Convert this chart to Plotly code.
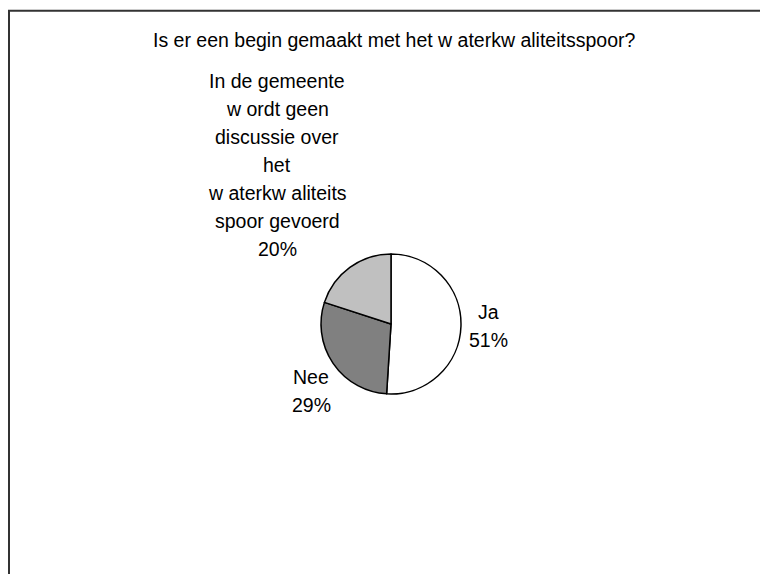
import plotly.graph_objects as go

OFF = 8  # page body margin
W, H = 768 - OFF, 574 - OFF

title_text = "Is er een begin gemaakt met het w aterkw aliteitsspoor?"
categories = ["Ja", "Nee",
              "In de gemeente<br>w ordt geen<br>discussie over<br>het<br>w aterkw aliteits<br>spoor gevoerd"]
values = [51, 29, 20]
colors = ["#FFFFFF", "#808080", "#C0C0C0"]

FONT = "Liberation Sans, Arial, sans-serif"
FS = 19.5

# pie geometry (window pixels)
cx, cy, r = 391 - OFF, 324 - OFF, 70

fig = go.Figure(go.Pie(
    labels=categories,
    values=values,
    sort=False,
    direction="clockwise",
    rotation=0,
    textinfo="none",
    hoverinfo="label+percent",
    marker=dict(colors=colors, line=dict(color="#000000", width=1.5)),
    domain=dict(x=[(cx - r) / W, (cx + r) / W], y=[(H - cy - r) / H, (H - cy + r) / H]),
    showlegend=False,
))

def px(x):
    return (x - OFF) / W

def py(y):
    return (H - (y - OFF)) / H

annotations = []
def add_lines(text, x, y0, spacing=28):
    for i, line in enumerate(text.split("<br>")):
        annotations.append(dict(
            x=px(x), y=py(y0 + i * spacing), xref="paper", yref="paper",
            text=line, showarrow=False, xanchor="center", yanchor="middle",
            font=dict(family=FONT, size=FS, color="#000000"),
        ))

add_lines(title_text, 394, 40)
total = sum(values)
label_pos = [(488, 312), (311, 377), (277, 81)]
for cat, v, (lx, ly) in zip(categories, values, label_pos):
    add_lines(cat + "<br>" + f"{round(100 * v / total)}%", lx, ly)

fig.update_layout(
    width=W, height=H,
    margin=dict(l=0, r=0, t=0, b=0),
    paper_bgcolor="#FFFFFF",
    plot_bgcolor="#FFFFFF",
    annotations=annotations,
    shapes=[dict(
        type="path", xref="paper", yref="paper",
        path=f"M {px(9)} {py(600)} L {px(9)} {py(10.8)} L {px(800)} {py(10.8)}",
        line=dict(color="#333333", width=2),
    )],
)

fig.write_html("out.html")
